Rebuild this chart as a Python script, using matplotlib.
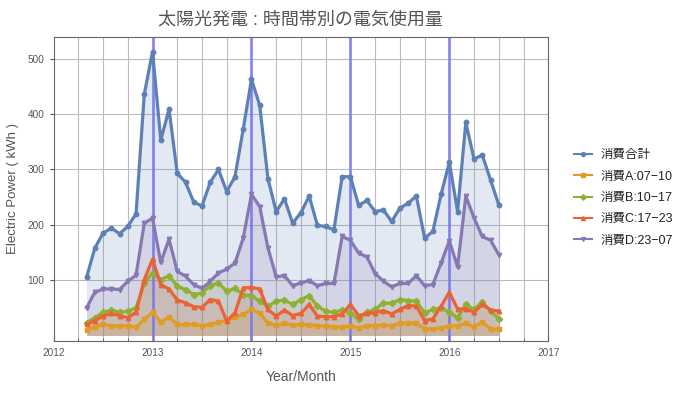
import numpy as np
import matplotlib
matplotlib.use('Agg')
import matplotlib.pyplot as plt

plt.rcParams['font.family'] = ['Liberation Sans', 'Noto Sans CJK JP', 'DejaVu Sans']

# monthly data, May 2012 .. Jul 2016
start_year, start_month = 2012, 5
total = [105, 158, 185, 194, 184, 197, 220, 436,
         513, 353, 409, 293, 277, 241, 234, 277, 300, 260, 287, 373,
         463, 416, 283, 224, 247, 203, 222, 252, 199, 197, 191, 287,
         287, 235, 244, 224, 227, 206, 230, 239, 252, 176, 188, 255,
         313, 224, 385, 319, 326, 281, 236]
use_a = [9, 16, 20, 18, 17, 18, 15, 29,
         42, 24, 33, 20, 20, 20, 18, 20, 24, 27, 33, 38,
         47, 41, 22, 19, 22, 19, 20, 19, 18, 17, 15, 16,
         17, 14, 18, 18, 19, 18, 22, 23, 22, 12, 12, 14,
         17, 18, 22, 16, 24, 12, 11]
use_b = [23, 32, 42, 46, 42, 44, 50, 95,
         113, 101, 108, 89, 83, 74, 77, 90, 95, 80, 85, 74,
         72, 62, 53, 62, 64, 56, 65, 72, 53, 44, 42, 46,
         41, 29, 42, 47, 59, 58, 65, 63, 62, 41, 47, 50,
         42, 32, 56, 47, 61, 44, 30]
use_c = [20, 27, 35, 40, 36, 32, 42, 101,
         138, 92, 84, 64, 59, 52, 51, 65, 62, 26, 41, 86,
         87, 84, 47, 35, 46, 36, 40, 56, 35, 34, 34, 39,
         56, 36, 40, 41, 45, 39, 47, 54, 53, 27, 30, 53,
         78, 48, 48, 42, 56, 46, 44]
use_d = [50, 78, 84, 84, 83, 98, 109, 203,
         212, 132, 174, 116, 107, 92, 85, 98, 113, 120, 131, 176,
         255, 233, 158, 106, 108, 90, 95, 99, 90, 94, 94, 179,
         172, 149, 142, 112, 98, 88, 94, 94, 108, 90, 92, 131,
         171, 124, 252, 212, 179, 172, 146]

labels = ['消費合計', '消費A:07−10', '消費B:10−17', '消費C:17−23', '消費D:23−07']
colors = ['#5E81B5', '#E19C24', '#8FB032', '#EB6235', '#8778B3']
markers = ['o', 's', 'D', '^', 'v']
years = [2012, 2013, 2014, 2015, 2016, 2017]
yticks = [100, 200, 300, 400, 500]

t = start_year + (start_month - 1) / 12 + np.arange(len(total)) / 12
series = [total, use_a, use_b, use_c, use_d]

fig = plt.figure(figsize=(6.81, 3.93), dpi=100)
ax = fig.add_axes([0.0787, 0.1323, 0.7264, 0.7743])

gray = '#555555'
# grid: quarters + every 100, blue lines at year starts
for q in np.arange(2012.25, 2017, 0.25):
    ax.axvline(q, color='#bbbbbb', lw=0.8, zorder=0)
for y in yticks:
    ax.axhline(y, color='#bbbbbb', lw=0.8, zorder=0)
for yr in years[1:-1]:
    ax.axvline(yr, color='#7878F2', lw=2.0, alpha=0.85, zorder=2)

for vals, c in zip(series, colors):
    ax.fill_between(t, 0, vals, color=c, alpha=0.17, lw=0, zorder=1)
for vals, lab, c, m in zip(series, labels, colors, markers):
    ax.plot(t, vals, color=c, lw=2.3, marker=m, ms=3.2, label=lab, zorder=3)

ax.set_xlim(2012, 2017)
ax.set_ylim(-10, 540)
ax.set_xticks(years)
ax.set_xticks(np.arange(2012, 2017, 0.25), minor=True)
ax.set_yticks(yticks)
ax.tick_params(axis='x', which='both', direction='in', labelsize=7.2, colors=gray, pad=5)
ax.tick_params(axis='x', which='major', length=4)
ax.tick_params(axis='x', which='minor', length=2.5)
ax.tick_params(axis='y', direction='out', labelsize=7.2, colors=gray, length=3)
for s in ax.spines.values():
    s.set_color('#666666')

ax.set_title('太陽光発電 : 時間帯別の電気使用量', fontsize=13, color=gray, pad=9)
ax.set_xlabel('Year/Month', fontsize=10, color=gray, labelpad=9)
ax.set_ylabel('Electric Power ( kWh )', fontsize=9.5, color=gray, labelpad=6)

leg = ax.legend(loc='center left', bbox_to_anchor=(1.03, 0.47), frameon=False,
                fontsize=9, handlelength=1.4, labelspacing=0.75, handletextpad=0.7)
for line in leg.get_lines():
    line.set_linewidth(1.5)
    line.set_markersize(2.8)
for txt in leg.get_texts():
    txt.set_color('#222222')

fig.savefig('out.png', dpi=100)
